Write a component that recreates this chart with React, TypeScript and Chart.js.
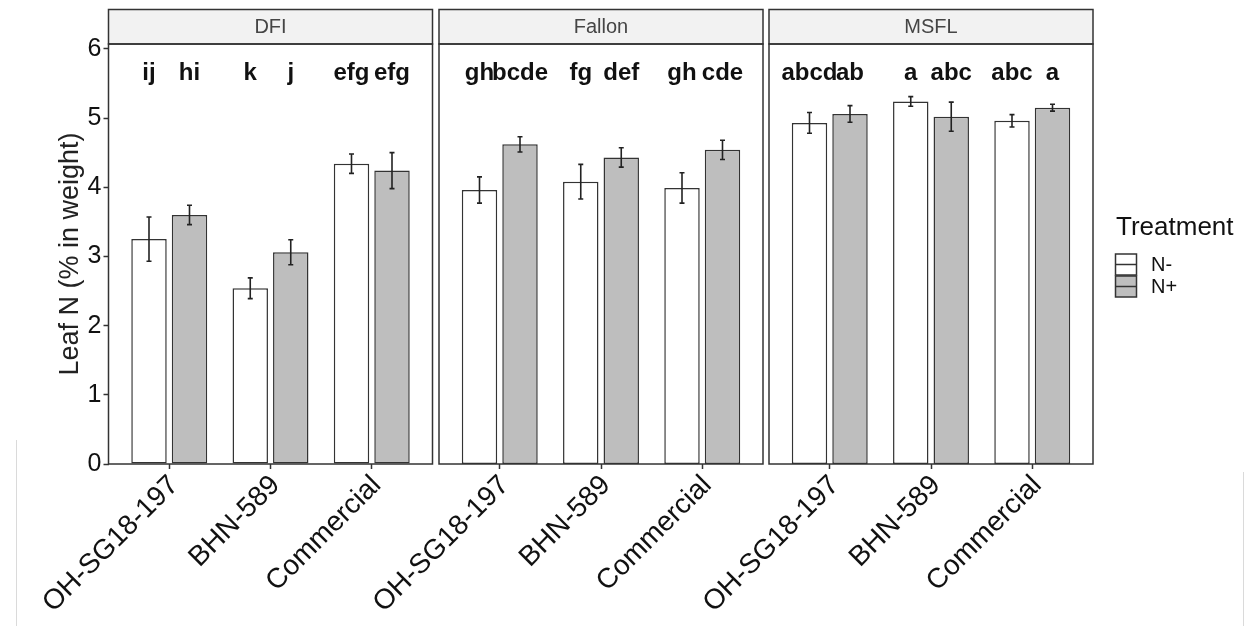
import React, { useEffect, useRef } from 'react';
import { Chart, registerables } from 'chart.js';

Chart.register(...registerables);

// ---------------- data ----------------
const sites = ['DFI', 'Fallon', 'MSFL'];
const genotypes = ['OH-SG18-197', 'BHN-589', 'Commercial'];
const treatments = ['N-', 'N+'];
const yAxisTitle = 'Leaf N (% in weight)';
const legendTitle = 'Treatment';

const dfiNminus = [3.25, 2.54, 4.34];
const dfiNplus = [3.6, 3.06, 4.24];
const dfiNminusSE = [0.32, 0.15, 0.14];
const dfiNplusSE = [0.14, 0.18, 0.26];
const dfiNminusLetters = ['ij', 'k', 'efg'];
const dfiNplusLetters = ['hi', 'j', 'efg'];

const fallonNminus = [3.96, 4.08, 3.99];
const fallonNplus = [4.62, 4.43, 4.54];
const fallonNminusSE = [0.19, 0.25, 0.22];
const fallonNplusSE = [0.11, 0.14, 0.14];
const fallonNminusLetters = ['gh', 'fg', 'gh'];
const fallonNplusLetters = ['bcde', 'def', 'cde'];

const msflNminus = [4.93, 5.24, 4.96];
const msflNplus = [5.06, 5.02, 5.15];
const msflNminusSE = [0.15, 0.07, 0.09];
const msflNplusSE = [0.12, 0.21, 0.05];
const msflNminusLetters = ['abcd', 'a', 'abc'];
const msflNplusLetters = ['ab', 'abc', 'a'];

// ---------------- layout / style ----------------
const W = 1246;
const H = 626;
const FONT = "'Liberation Sans', Arial, Helvetica, sans-serif";
const panelLeft = [108.5, 439, 769];
const panelRight = [432.5, 763, 1093];
const panelTop = 44;
const panelBottom = 464;
const stripTop = 9.5;
const yMax = 6.07;
const letterLevel = 5.65;
const fills = ['#FFFFFF', '#BEBEBE'];
const edge = '#333333';

const panels = [
  { site: sites[0], means: [dfiNminus, dfiNplus], se: [dfiNminusSE, dfiNplusSE], letters: [dfiNminusLetters, dfiNplusLetters] },
  { site: sites[1], means: [fallonNminus, fallonNplus], se: [fallonNminusSE, fallonNplusSE], letters: [fallonNminusLetters, fallonNplusLetters] },
  { site: sites[2], means: [msflNminus, msflNplus], se: [msflNminusSE, msflNplusSE], letters: [msflNminusLetters, msflNplusLetters] },
];

function makePlugins(index: number) {
  const p = panels[index];
  const decor = {
    id: 'decor' + index,
    afterDraw(chart: any) {
      const { ctx, chartArea } = chart;
      const l = chartArea.left, r = chartArea.right, t = chartArea.top, b = chartArea.bottom;
      ctx.save();
      // strip
      ctx.fillStyle = '#F2F2F2';
      ctx.fillRect(l, stripTop, r - l, t - stripTop);
      ctx.strokeStyle = edge;
      ctx.lineWidth = 1.5;
      ctx.strokeRect(l, stripTop, r - l, t - stripTop);
      ctx.fillStyle = '#454545';
      ctx.font = `20px ${FONT}`;
      ctx.textAlign = 'center';
      ctx.textBaseline = 'middle';
      ctx.fillText(p.site, (l + r) / 2, (stripTop + t) / 2 + 1);
      // panel border
      ctx.strokeStyle = edge;
      ctx.lineWidth = 1.5;
      ctx.strokeRect(l, t, r - l, b - t);
      ctx.restore();
    },
  };
  const marks = {
    id: 'marks' + index,
    afterDatasetsDraw(chart: any) {
      const { ctx } = chart;
      const ys = chart.scales.y;
      ctx.save();
      p.means.forEach((vals: number[], k: number) => {
        const meta = chart.getDatasetMeta(k);
        meta.data.forEach((el: any, g: number) => {
          const m = vals[g];
          const s = p.se[k][g];
          const yt = ys.getPixelForValue(m + s);
          const yb = ys.getPixelForValue(m - s);
          ctx.strokeStyle = '#222';
          ctx.lineWidth = 1.6;
          ctx.beginPath();
          ctx.moveTo(el.x, yt);
          ctx.lineTo(el.x, yb);
          ctx.moveTo(el.x - 2.5, yt);
          ctx.lineTo(el.x + 2.5, yt);
          ctx.moveTo(el.x - 2.5, yb);
          ctx.lineTo(el.x + 2.5, yb);
          ctx.stroke();
          // significance letters
          ctx.fillStyle = '#111';
          ctx.font = `bold 24px ${FONT}`;
          ctx.textAlign = 'center';
          ctx.textBaseline = 'middle';
          ctx.fillText(p.letters[k][g], el.x, ys.getPixelForValue(letterLevel));
        });
      });
      ctx.restore();
    },
  };
  const legend = {
    id: 'legendDraw',
    afterDraw(chart: any) {
      const { ctx } = chart;
      ctx.save();
      ctx.fillStyle = '#111';
      ctx.font = `26px ${FONT}`;
      ctx.textAlign = 'left';
      ctx.textBaseline = 'alphabetic';
      ctx.fillText(legendTitle, 1116, 235);
      treatments.forEach((t, k) => {
        const y0 = 254 + k * 22;
        ctx.fillStyle = fills[k];
        ctx.fillRect(1115.5, y0, 21, 21);
        ctx.strokeStyle = edge;
        ctx.lineWidth = 1.5;
        ctx.strokeRect(1115.5, y0, 21, 21);
        ctx.beginPath();
        ctx.moveTo(1115.5, y0 + 10.5);
        ctx.lineTo(1136.5, y0 + 10.5);
        ctx.stroke();
        ctx.fillStyle = '#111';
        ctx.font = `20px ${FONT}`;
        ctx.textBaseline = 'middle';
        ctx.fillText(t, 1151, y0 + 11);
      });
      ctx.restore();
    },
  };
  return index === 2 ? [decor, marks, legend] : [decor, marks];
}

function Panel({ index }: { index: number }) {
  const ref = useRef<HTMLCanvasElement>(null);
  useEffect(() => {
    const p = panels[index];
    const first = index === 0;
    Chart.defaults.font.family = FONT;
    const chart = new Chart(ref.current as HTMLCanvasElement, {
      type: 'bar',
      data: {
        datasets: treatments.map((t, k) => ({
          label: t,
          data: genotypes.map((_, g) => ({ x: g, y: p.means[k][g] })),
          backgroundColor: fills[k],
          borderColor: edge,
          borderWidth: 1.5,
          borderSkipped: false,
          categoryPercentage: 0.8,
          barPercentage: 0.875,
        })),
      } as any,
      options: {
        responsive: false,
        maintainAspectRatio: false,
        animation: false,
        devicePixelRatio: 1,
        layout: {
          padding: {
            left: first ? 0 : panelLeft[index],
            right: W - panelRight[index],
            top: panelTop,
            bottom: 0,
          },
        },
        plugins: { legend: { display: false }, tooltip: { enabled: false } },
        scales: {
          x: {
            type: 'linear',
            bounds: 'data',
            min: -0.6,
            max: 2.6,
            offset: false,
            afterBuildTicks: (s: any) => {
              s.ticks = genotypes.map((_, g) => ({ value: g }));
            },
            afterFit: (s: any) => {
              s.height = H - panelBottom;
            },
            ticks: {
              callback: (v: any) => genotypes[Math.round(Number(v))],
              autoSkip: false,
              minRotation: 45,
              maxRotation: 45,
              padding: 0,
              labelOffset: 5,
              color: '#111',
              font: { size: 28, family: FONT },
            },
            grid: {
              display: true,
              offset: false,
              drawOnChartArea: false,
              drawTicks: true,
              tickLength: 5,
              tickColor: edge,
              tickWidth: 1.5,
            },
            border: { display: false },
          },
          y: {
            type: 'linear',
            display: first,
            bounds: 'data',
            min: 0,
            max: yMax,
            afterFit: (s: any) => {
              if (first) s.width = panelLeft[0];
            },
            ticks: {
              stepSize: 1,
              includeBounds: false,
              padding: 2,
              color: '#111',
              font: { size: 25, family: FONT },
            },
            grid: {
              drawOnChartArea: false,
              drawTicks: true,
              tickLength: 5,
              tickColor: edge,
              tickWidth: 1.5,
            },
            border: { display: false },
            title: {
              display: true,
              text: yAxisTitle,
              color: '#222',
              font: { size: 27, family: FONT },
              padding: { top: 54, bottom: 0 },
            },
          },
        },
      } as any,
      plugins: makePlugins(index) as any,
    });
    return () => chart.destroy();
  }, [index]);
  return (
    <canvas
      ref={ref}
      width={W}
      height={H}
      style={{ position: 'absolute', left: 0, top: 0, width: W, height: H }}
    />
  );
}

export default function App() {
  return (
    <div style={{ position: 'absolute', left: 0, top: 0, width: W, height: H, background: '#fff' }}>
      <div style={{ position: 'absolute', left: 16, top: 440, width: 1, height: H - 440, background: '#DADADA' }} />
      <div style={{ position: 'absolute', left: 1243, top: 472, width: 1, height: H - 472, background: '#DADADA' }} />
      {panels.map((_, i) => (
        <Panel key={i} index={i} />
      ))}
    </div>
  );
}
